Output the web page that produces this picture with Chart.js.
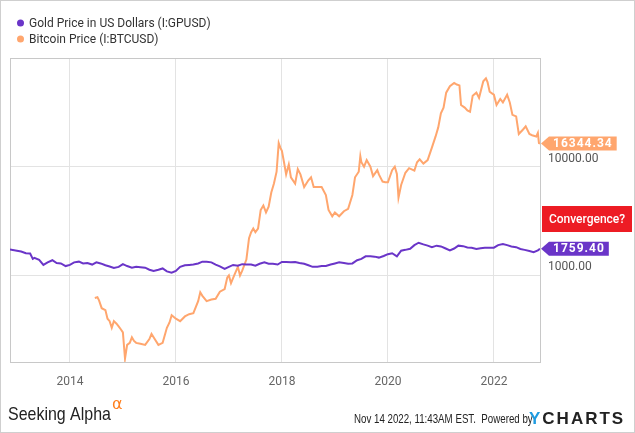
<!DOCTYPE html>
<html>
<head>
<meta charset="utf-8">
<script src="https://cdn.jsdelivr.net/npm/chart.js@4"></script>
<style>
html, body { margin: 0; padding: 0; background: #fff; }
</style>
</head>
<body>
<canvas id="chart" width="635" height="433"></canvas>
<script>
const seriesLabels = ['Gold Price in US Dollars (I:GPUSD)', 'Bitcoin Price (I:BTCUSD)']
const lastValueLabels = ['1759.40', '16344.34']
const noteText = 'Convergence?'
const xTickYears = [2014, 2016, 2018, 2020, 2022]
const yTickValues = [1000, 10000]

const goldYears = [
	2012.87, 2013.0, 2013.08, 2013.17, 2013.25, 2013.3, 2013.33, 2013.42, 2013.5, 2013.58, 2013.67, 2013.75, 2013.83, 2013.92,
	2014.0, 2014.08, 2014.17, 2014.25, 2014.33, 2014.42, 2014.5, 2014.58, 2014.67, 2014.75, 2014.83, 2014.92,
	2015.0, 2015.08, 2015.17, 2015.25, 2015.33, 2015.42, 2015.5, 2015.58, 2015.67, 2015.75, 2015.83, 2015.92,
	2016.0, 2016.08, 2016.17, 2016.25, 2016.33, 2016.42, 2016.5, 2016.58, 2016.67, 2016.75, 2016.83, 2016.92,
	2017.0, 2017.08, 2017.17, 2017.25, 2017.33, 2017.42, 2017.5, 2017.58, 2017.67, 2017.75, 2017.83, 2017.92,
	2018.0, 2018.08, 2018.17, 2018.25, 2018.33, 2018.42, 2018.5, 2018.58, 2018.67, 2018.75, 2018.83, 2018.92,
	2019.0, 2019.08, 2019.17, 2019.25, 2019.33, 2019.42, 2019.5, 2019.58, 2019.67, 2019.75, 2019.83, 2019.92,
	2020.0, 2020.08, 2020.17, 2020.25, 2020.33, 2020.42, 2020.5, 2020.58, 2020.67, 2020.75, 2020.83, 2020.92,
	2021.0, 2021.08, 2021.17, 2021.25, 2021.33, 2021.42, 2021.5, 2021.58, 2021.67, 2021.75, 2021.83, 2021.92,
	2022.0, 2022.08, 2022.17, 2022.25, 2022.33, 2022.42, 2022.5, 2022.58, 2022.67, 2022.75, 2022.83, 2022.87,
]
const goldPrices = [
	1730, 1690, 1660, 1600, 1590, 1420, 1450, 1390, 1250, 1320, 1380, 1300, 1290, 1220,
	1250, 1320, 1340, 1290, 1300, 1260, 1320, 1290, 1240, 1210, 1170, 1200,
	1270, 1220, 1180, 1200, 1190, 1180, 1130, 1100, 1130, 1160, 1090, 1060,
	1100, 1200, 1240, 1250, 1260, 1290, 1340, 1340, 1320, 1260, 1210, 1150,
	1200, 1250, 1230, 1270, 1260, 1260, 1230, 1280, 1320, 1280, 1280, 1260,
	1330, 1330, 1320, 1330, 1300, 1280, 1240, 1200, 1200, 1220, 1220, 1260,
	1290, 1320, 1300, 1280, 1290, 1380, 1420, 1500, 1500, 1490, 1460, 1510,
	1570, 1600, 1500, 1690, 1720, 1760, 1900, 2000, 1930, 1880, 1820, 1880,
	1850, 1780, 1700, 1770, 1880, 1860, 1810, 1800, 1750, 1780, 1800, 1800,
	1800, 1900, 1950, 1900, 1850, 1820, 1750, 1720, 1680, 1640, 1700, 1759.40,
]

const btcYears = [
	2014.47, 2014.52, 2014.55, 2014.6, 2014.67, 2014.71, 2014.75, 2014.79, 2014.83, 2014.88, 2014.92, 2014.96,
	2015.0, 2015.04, 2015.08, 2015.13, 2015.17, 2015.21, 2015.25, 2015.33, 2015.42, 2015.5, 2015.54, 2015.6,
	2015.67, 2015.75, 2015.83, 2015.88, 2015.92, 2016.0, 2016.08, 2016.17, 2016.25, 2016.33, 2016.42, 2016.46,
	2016.5, 2016.58, 2016.67, 2016.75, 2016.83, 2016.92, 2016.97, 2017.0, 2017.04, 2017.1, 2017.17, 2017.21,
	2017.25, 2017.33, 2017.38, 2017.42, 2017.46, 2017.5, 2017.55, 2017.6, 2017.65, 2017.7, 2017.75, 2017.8,
	2017.85, 2017.9, 2017.94, 2017.97, 2018.0, 2018.04, 2018.08, 2018.13, 2018.17, 2018.25, 2018.3, 2018.35,
	2018.42, 2018.5, 2018.55, 2018.6, 2018.67, 2018.75, 2018.83, 2018.88, 2018.95, 2019.0, 2019.08, 2019.17,
	2019.25, 2019.33, 2019.38, 2019.45, 2019.48, 2019.5, 2019.55, 2019.6, 2019.67, 2019.72, 2019.8, 2019.83,
	2019.9, 2019.95, 2020.0, 2020.08, 2020.13, 2020.17, 2020.2, 2020.25, 2020.33, 2020.4, 2020.5, 2020.55,
	2020.6, 2020.67, 2020.75, 2020.83, 2020.9, 2020.95, 2021.0, 2021.05, 2021.1, 2021.17, 2021.25, 2021.3,
	2021.35, 2021.38, 2021.45, 2021.5, 2021.55, 2021.6, 2021.67, 2021.72, 2021.8, 2021.85, 2021.88, 2021.92,
	2021.97, 2022.0, 2022.05, 2022.12, 2022.17, 2022.25, 2022.3, 2022.35, 2022.42, 2022.47, 2022.55, 2022.6,
	2022.67, 2022.72, 2022.8, 2022.83, 2022.85, 2022.87,
]
const btcPrices = [
	620, 630, 590, 500, 480, 400, 380, 330, 380, 360, 340, 320,
	300, 172, 230, 240, 270, 250, 240, 235, 230, 260, 290, 260,
	230, 240, 330, 370, 430, 400, 380, 420, 440, 450, 580, 700,
	650, 580, 600, 610, 710, 750, 960, 1000, 850, 1000, 1200, 1000,
	1100, 1400, 2200, 2500, 2700, 2500, 2700, 4000, 4400, 3800, 4300, 5800,
	7000, 9000, 16500, 15000, 14000, 11000, 8500, 10500, 8000, 7000, 9500, 8500,
	6500, 7500, 8000, 6500, 6500, 6500, 5500, 4000, 3500, 3800, 3500, 3900,
	4100, 5500, 8000, 9000, 12500, 11000, 10000, 11500, 10000, 8200, 9300, 8500,
	7300, 7200, 7200, 9300, 10000, 8600, 5200, 6800, 8800, 9700, 9200, 11000,
	11700, 10700, 11500, 15000, 19000, 23000, 31000, 35000, 48000, 55000, 59000, 57000,
	56000, 37000, 35000, 33000, 32000, 45000, 48000, 43000, 61000, 65000, 60000, 49000,
	47000, 46000, 37000, 42000, 39000, 46000, 39000, 30000, 29000, 20000, 22000, 23500,
	20000, 19500, 19000, 20500, 16500, 16344.34,
]

const goldColor = '#6a35c8'
const btcColor = '#ffa66e'

const pairs = (xs, ys) => xs.map((x, i) => ({ x: x, y: ys[i] }))

// narrow text: the footer font is condensed, squeeze a regular face
function narrowText(ctx, text, x, y, sx) {
	ctx.save()
	ctx.translate(x, y)
	ctx.scale(sx, 1)
	ctx.fillText(text, 0, 0)
	const w = ctx.measureText(text).width * sx
	ctx.restore()
	return w
}

const ycPlugin = {
	id: 'ycharts',
	beforeDraw(chart) {
		const ctx = chart.ctx
		ctx.save()
		ctx.fillStyle = '#fff'
		ctx.fillRect(0, 0, chart.width, chart.height)
		ctx.strokeStyle = '#cfcfcf'
		ctx.lineWidth = 1
		ctx.strokeRect(0.5, 0.5, chart.width - 1, chart.height - 1)
		ctx.restore()
	},
	beforeDatasetsDraw(chart) {
		const ctx = chart.ctx
		const a = chart.chartArea
		ctx.save()
		ctx.strokeStyle = '#c8c8c8'
		ctx.lineWidth = 1
		ctx.strokeRect(a.left + 0.5, a.top + 0.5, a.right - a.left, a.bottom - a.top)
		ctx.restore()
	},
	afterDraw(chart) {
		const ctx = chart.ctx
		const a = chart.chartArea
		ctx.save()

		// legend
		ctx.font = '12px Roboto'
		ctx.textBaseline = 'middle'
		chart.data.datasets.forEach((ds, i) => {
			const y = 23 + i * 16
			ctx.fillStyle = ds.borderColor
			ctx.beginPath()
			ctx.arc(20.5, y, 3.5, 0, Math.PI * 2)
			ctx.fill()
			ctx.fillStyle = '#333'
			ctx.textAlign = 'left'
			ctx.fillText(ds.label, 29, y + 0.5)
		})

		// last value badges
		ctx.font = 'bold 12px Roboto'
		ctx.letterSpacing = '1px'
		chart.data.datasets.forEach((ds, i) => {
			const meta = chart.getDatasetMeta(i)
			const pt = meta.data[meta.data.length - 1]
			const text = lastValueLabels[i]
			const w = ctx.measureText(text).width + 8
			const x0 = a.right + 1
			const y = pt.y
			ctx.fillStyle = ds.borderColor
			ctx.beginPath()
			ctx.moveTo(x0, y)
			ctx.lineTo(x0 + 8, y - 7)
			ctx.lineTo(x0 + 8 + w, y - 7)
			ctx.lineTo(x0 + 8 + w, y + 7)
			ctx.lineTo(x0 + 8, y + 7)
			ctx.closePath()
			ctx.fill()
			ctx.fillStyle = '#fff'
			ctx.textAlign = 'left'
			ctx.fillText(text, x0 + 12, y + 0.5)
		})
		ctx.letterSpacing = '0px'

		// note box
		ctx.fillStyle = '#ed1c24'
		ctx.fillRect(542, 206, 90, 26)
		ctx.fillStyle = '#fff'
		ctx.font = '500 12px Roboto'
		ctx.textAlign = 'center'
		ctx.fillText(noteText, 587, 219.5)

		// footer
		ctx.textAlign = 'left'
		ctx.textBaseline = 'alphabetic'
		ctx.fillStyle = '#222'
		ctx.font = '19px "Liberation Sans", sans-serif'
		const saw = narrowText(ctx, 'Seeking Alpha', 8, 420, 0.84)
		ctx.fillStyle = '#ff7f1e'
		ctx.font = '16px "DejaVu Sans", sans-serif'
		ctx.fillText('\u03b1', 8 + saw + 1, 409)

		ctx.fillStyle = '#222'
		ctx.font = '12px "Liberation Sans", sans-serif'
		narrowText(ctx, 'Nov 14 2022, 11:43AM EST.  Powered by', 354, 423, 0.81)
		ctx.font = 'bold 17px "Liberation Sans", sans-serif'
		ctx.letterSpacing = '2px'
		ctx.fillStyle = '#1e9be0'
		ctx.fillText('Y', 529, 424)
		const yw = ctx.measureText('Y').width
		ctx.fillStyle = '#222'
		ctx.fillText('CHARTS', 529 + yw, 424)
		ctx.restore()
	},
}

new Chart(document.getElementById('chart'), {
	type: 'line',
	data: {
		datasets: [
			{
				label: seriesLabels[0],
				data: pairs(goldYears, goldPrices),
				borderColor: goldColor,
				backgroundColor: goldColor,
				borderWidth: 2,
				pointRadius: 0,
			},
			{
				label: seriesLabels[1],
				data: pairs(btcYears, btcPrices),
				borderColor: btcColor,
				backgroundColor: btcColor,
				borderWidth: 2,
				pointRadius: 0,
			},
		],
	},
	options: {
		responsive: false,
		animation: false,
		devicePixelRatio: 1,
		layout: { padding: { top: 58, left: 10, right: 0, bottom: 0 } },
		plugins: {
			legend: { display: false },
			tooltip: { enabled: false },
		},
		scales: {
			x: {
				type: 'linear',
				min: 2012.87,
				max: 2022.87,
				grid: { color: '#e3e3e3', drawTicks: false },
				border: { display: false },
				ticks: {
					color: '#666',
					font: { family: 'Roboto', size: 12 },
					padding: 13,
					maxRotation: 0,
					callback: v => String(v),
				},
				afterBuildTicks: s => {
					s.ticks = xTickYears.map(v => ({ value: v }))
				},
				afterFit: s => {
					s.height = 71
				},
			},
			y: {
				type: 'logarithmic',
				position: 'right',
				min: 160,
				max: 100000,
				grid: { color: '#e3e3e3', drawTicks: false },
				border: { display: false },
				ticks: {
					color: '#555',
					font: { family: 'Roboto', size: 12 },
					padding: 8,
					labelOffset: -8,
					callback: v => Number(v).toFixed(2),
				},
				afterBuildTicks: s => {
					s.ticks = yTickValues.map(v => ({ value: v }))
				},
				afterFit: s => {
					s.width = 95
				},
			},
		},
	},
	plugins: [ycPlugin],
})
</script>
</body>
</html>
